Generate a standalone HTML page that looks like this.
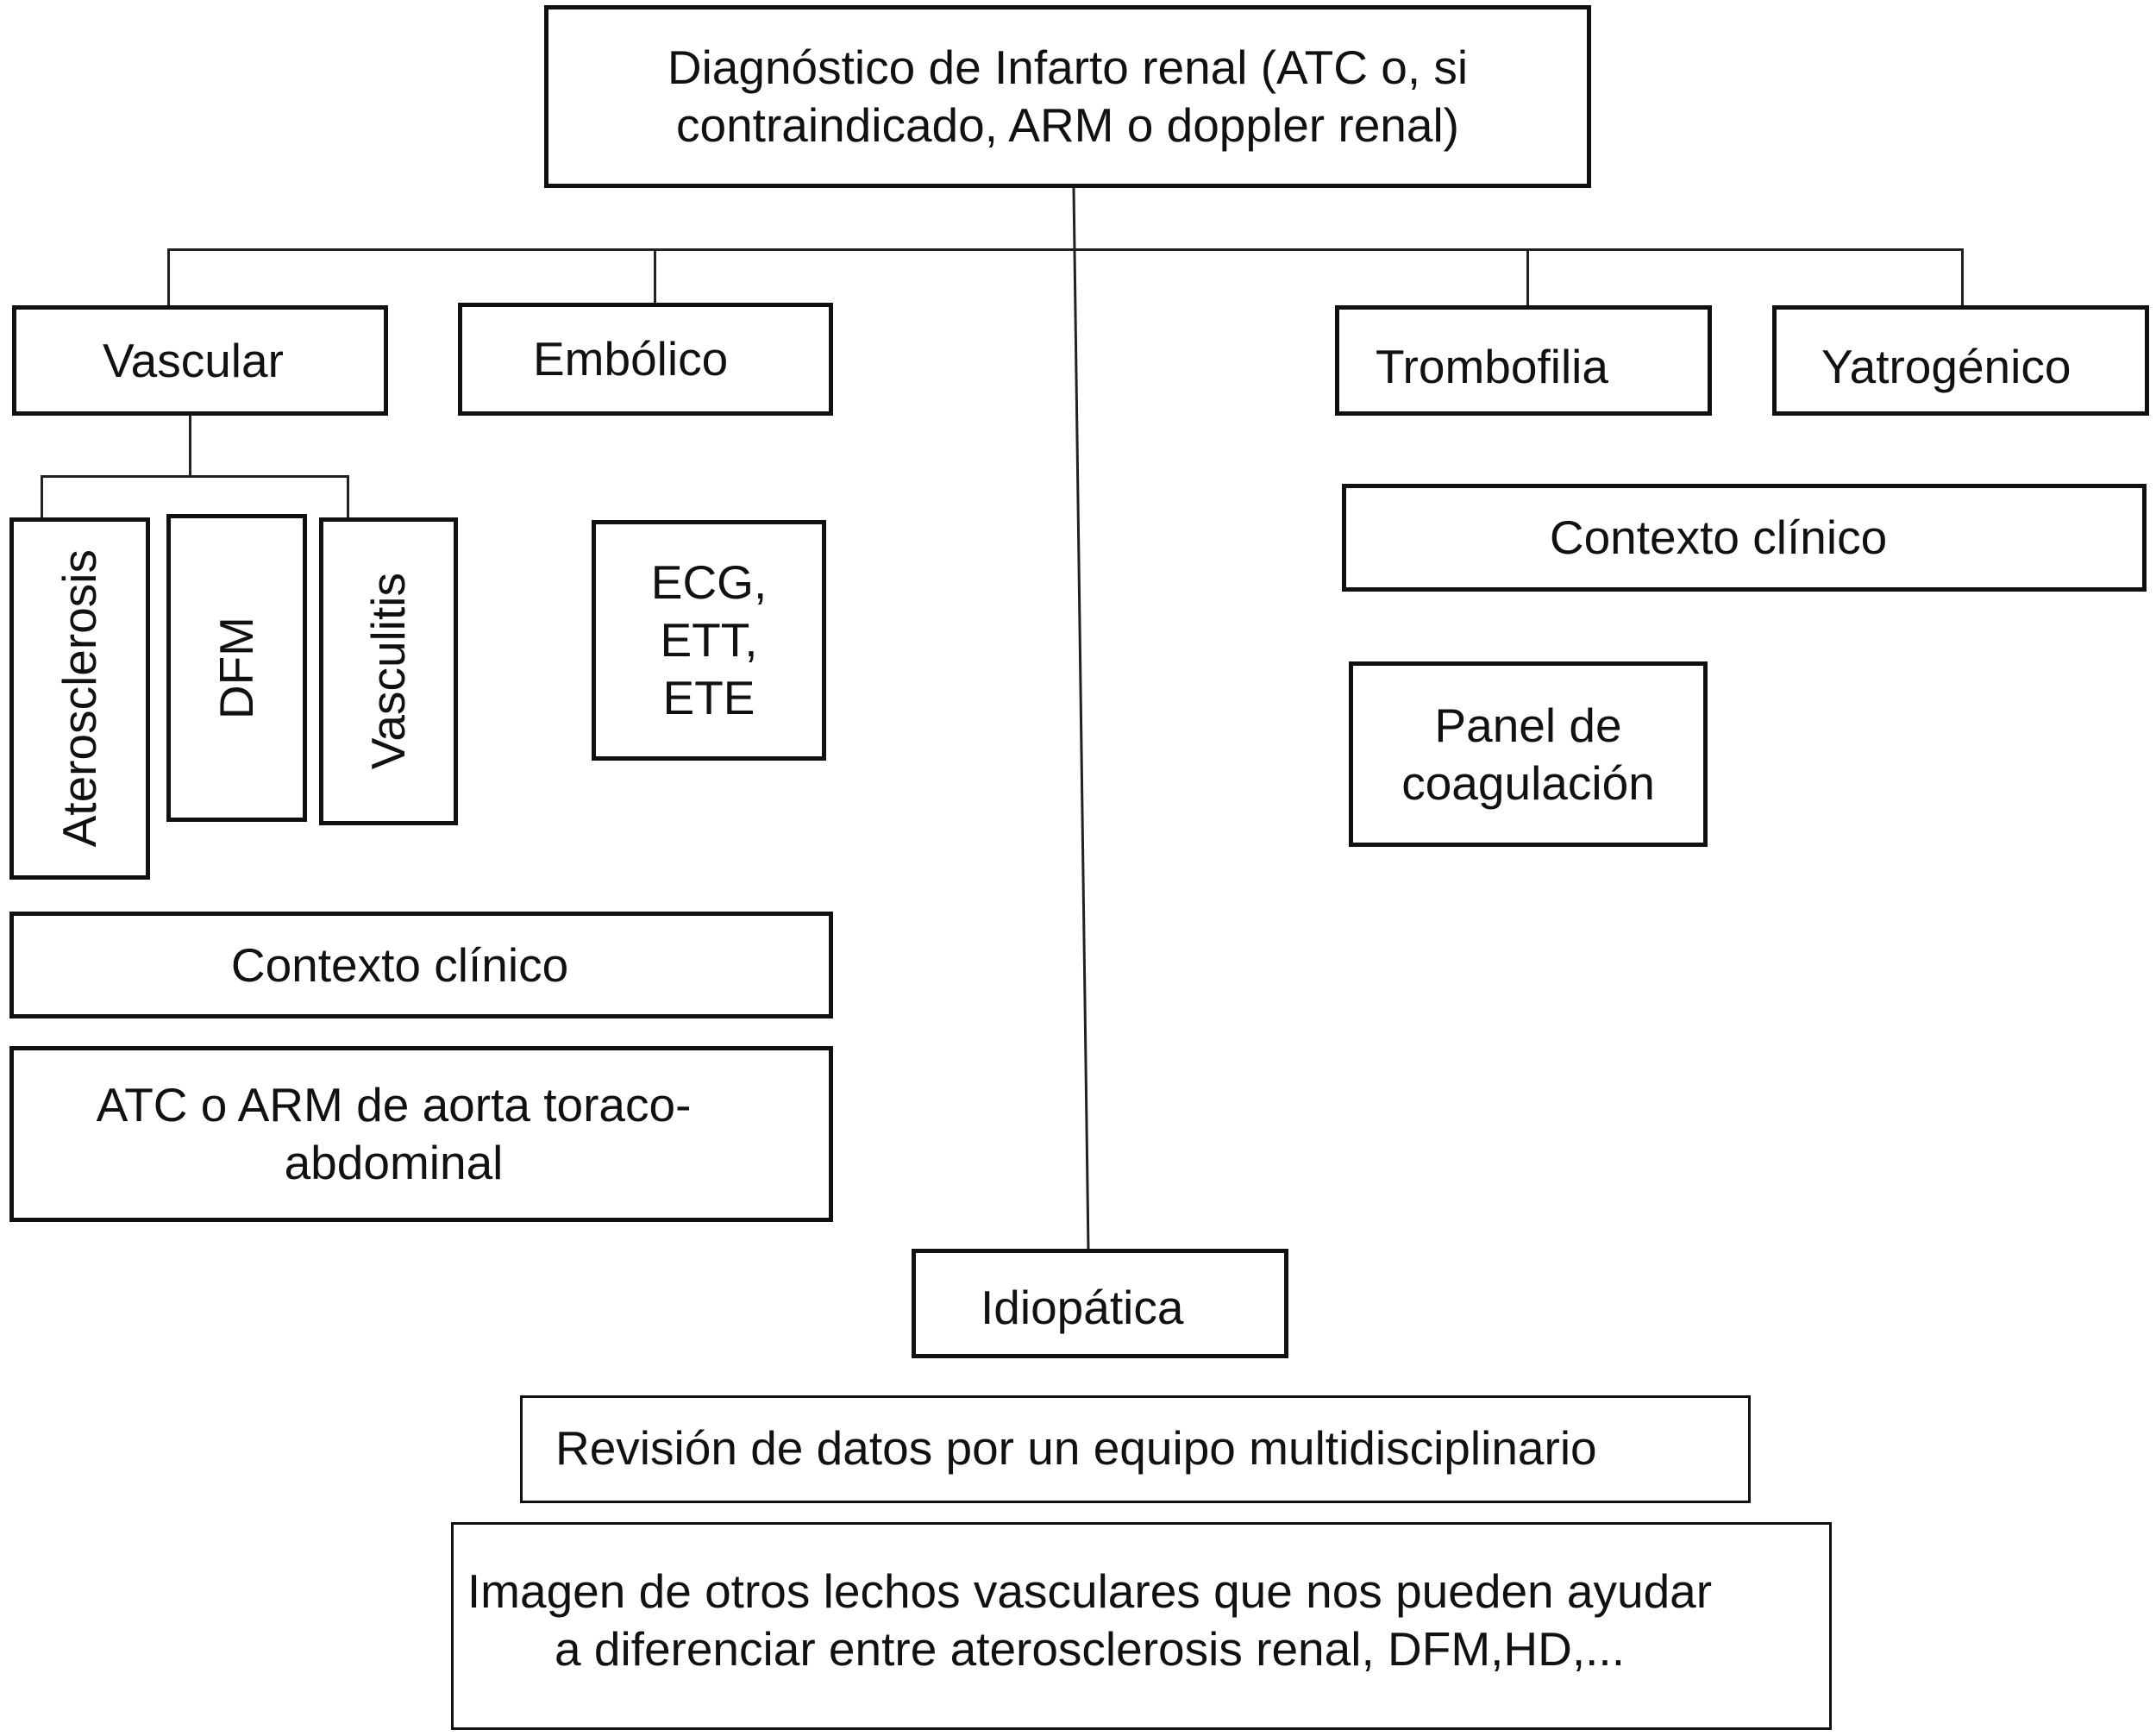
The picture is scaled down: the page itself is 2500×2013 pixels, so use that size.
<!DOCTYPE html>
<html><head><meta charset="utf-8"><style>
body{margin:0;width:2500px;height:2013px;background:#fff;position:relative;overflow:hidden;font-family:"Liberation Sans",Arial,sans-serif;color:#111}
.b{position:absolute;border:5px solid #111;box-sizing:border-box;display:flex;align-items:center;justify-content:center;text-align:center;font-size:55px;line-height:67px;white-space:nowrap}
.l{position:absolute;background:#222}
.v{writing-mode:vertical-rl;transform:rotate(180deg)}
</style></head><body>
<svg style="position:absolute;left:0;top:0" width="2500" height="2013"><line x1="1245" y1="218" x2="1262" y2="1450" stroke="#222" stroke-width="3"/></svg>
<div class="l" style="left:195px;top:288px;width:2082px;height:3px"></div>
<div class="l" style="left:194px;top:288px;width:3px;height:67px"></div>
<div class="l" style="left:758px;top:288px;width:3px;height:64px"></div>
<div class="l" style="left:1770px;top:288px;width:3px;height:66px"></div>
<div class="l" style="left:2274px;top:288px;width:3px;height:66px"></div>
<div class="l" style="left:219px;top:482px;width:3px;height:70px"></div>
<div class="l" style="left:47px;top:551px;width:357px;height:3px"></div>
<div class="l" style="left:47px;top:551px;width:3px;height:50px"></div>
<div class="l" style="left:402px;top:551px;width:3px;height:50px"></div>

<div class="b" style="left:631px;top:6px;width:1214px;height:212px">Diagnóstico de Infarto renal (ATC o, si<br>contraindicado, ARM o doppler renal)</div>
<div class="b" style="left:14px;top:354px;width:436px;height:128px;justify-content:flex-start;padding-left:100px">Vascular</div>
<div class="b" style="left:531px;top:351px;width:435px;height:131px;justify-content:flex-start;padding-left:82px">Embólico</div>
<div class="b" style="left:1548px;top:354px;width:437px;height:128px;justify-content:flex-start;padding-left:42px;padding-top:14px">Trombofilia</div>
<div class="b" style="left:2055px;top:354px;width:437px;height:128px;justify-content:flex-start;padding-left:52px;padding-top:14px">Yatrogénico</div>
<div class="b" style="left:11px;top:600px;width:163px;height:420px"><span class="v">Aterosclerosis</span></div>
<div class="b" style="left:193px;top:596px;width:163px;height:357px"><span class="v">DFM</span></div>
<div class="b" style="left:370px;top:600px;width:161px;height:357px"><span class="v">Vasculitis</span></div>
<div class="b" style="left:686px;top:603px;width:272px;height:279px">ECG,<br>ETT,<br>ETE</div>
<div class="b" style="left:1556px;top:561px;width:933px;height:125px;padding-right:60px">Contexto clínico</div>
<div class="b" style="left:1564px;top:767px;width:416px;height:215px">Panel de<br>coagulación</div>
<div class="b" style="left:11px;top:1057px;width:955px;height:124px;padding-right:50px">Contexto clínico</div>
<div class="b" style="left:11px;top:1213px;width:955px;height:204px;align-items:flex-start;padding-top:30px;padding-right:64px">ATC o ARM de aorta toraco-<br>abdominal</div>
<div class="b" style="left:1057px;top:1448px;width:437px;height:127px;justify-content:flex-start;padding-left:75px;padding-top:10px">Idiopática</div>
<div class="b" style="left:603px;top:1618px;width:1427px;height:125px;border-width:3px;justify-content:flex-start;padding-left:38px;padding-bottom:3px">Revisión de datos por un equipo multidisciplinario</div>
<div class="b" style="left:523px;top:1765px;width:1601px;height:241px;border-width:3px;align-items:flex-start;padding-top:44px;padding-right:120px">Imagen de otros lechos vasculares que nos pueden ayudar<br>a diferenciar entre aterosclerosis renal, DFM,HD,...</div>
</body></html>
